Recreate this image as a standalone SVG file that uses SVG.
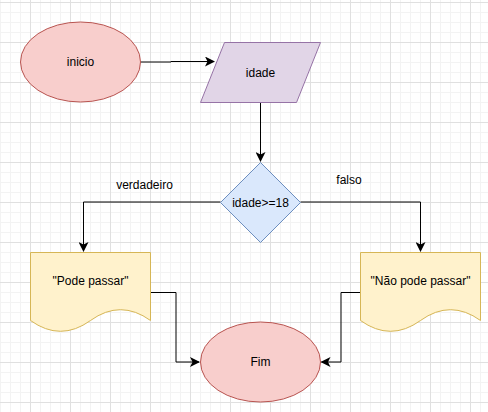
<svg xmlns="http://www.w3.org/2000/svg" width="488" height="412" viewBox="0 0 488 412">
<defs>
<pattern id="grid" patternUnits="userSpaceOnUse" x="30" y="2" width="40" height="40">
<path d="M10.5 0V40M20.5 0V40M30.5 0V40M0 10.5H40M0 20.5H40M0 30.5H40" stroke="#f3f3f3" stroke-width="1" fill="none"/>
<path d="M0.5 0V40M0 0.5H40" stroke="#e0e0e0" stroke-width="1" fill="none"/>
</pattern>
<marker id="arr" viewBox="0 0 10 10" refX="9" refY="5" markerWidth="10" markerHeight="10" markerUnits="userSpaceOnUse" orient="auto">
<path d="M0 0L10 5L0 10L2.5 5Z" fill="#000"/>
</marker>
<style>
text{font-family:"Liberation Sans",Arial,sans-serif;font-size:12px;fill:#000;text-anchor:middle;dominant-baseline:central}
.term{fill:#f8cecc;stroke:#b85450}
.io{fill:#e1d5e7;stroke:#9673a6}
.dec{fill:#dae8fc;stroke:#6c8ebf}
.doc{fill:#fff2cc;stroke:#d6b656}
.edge{fill:none;stroke:#000;stroke-width:1;marker-end:url(#arr)}
</style>
</defs>
<rect width="488" height="412" fill="#fff"/>
<rect width="488" height="412" fill="url(#grid)"/>
<g id="connectors">
<path class="edge" d="M140.5 62H171V61.5H214"/>
<path class="edge" d="M260.5 102V161"/>
<path class="edge" d="M220.5 202H83.5V251"/>
<path class="edge" d="M300.5 202H420.5V251"/>
<path class="edge" d="M150.5 292.5H176V362H199"/>
<path class="edge" d="M360.5 292.5H341V362H321.5"/>
</g>
<g id="inicio">
<ellipse class="term" cx="80.5" cy="62" rx="60" ry="40"/>
<text x="80.5" y="62">inicio</text>
</g>
<g id="idade">
<path class="io" d="M224.5 42.5H320.5L296.5 102.5H200.5Z"/>
<text x="260.5" y="72.5">idade</text>
</g>
<g id="decisao">
<path class="dec" d="M260.5 162.5L300.5 202.5L260.5 242.5L220.5 202.5Z"/>
<text x="260.5" y="202.5">idade&gt;=18</text>
</g>
<g id="label-verdadeiro">
<text x="144.5" y="184.5">verdadeiro</text>
</g>
<g id="label-falso">
<text x="349" y="179.5">falso</text>
</g>
<g id="pode">
<path class="doc" d="M30.5 252.5H150.5V320.5Q120.5 298.9 90.5 320.5Q60.5 342.1 30.5 320.5Z"/>
<text x="90.5" y="281">"Pode passar"</text>
</g>
<g id="naopode">
<path class="doc" d="M360.5 252.5H480.5V320.5Q450.5 298.9 420.5 320.5Q390.5 342.1 360.5 320.5Z"/>
<text x="420.5" y="281">"Não pode passar"</text>
</g>
<g id="fim">
<ellipse class="term" cx="260.5" cy="362" rx="60" ry="40"/>
<text x="260.5" y="362">Fim</text>
</g>
</svg>
